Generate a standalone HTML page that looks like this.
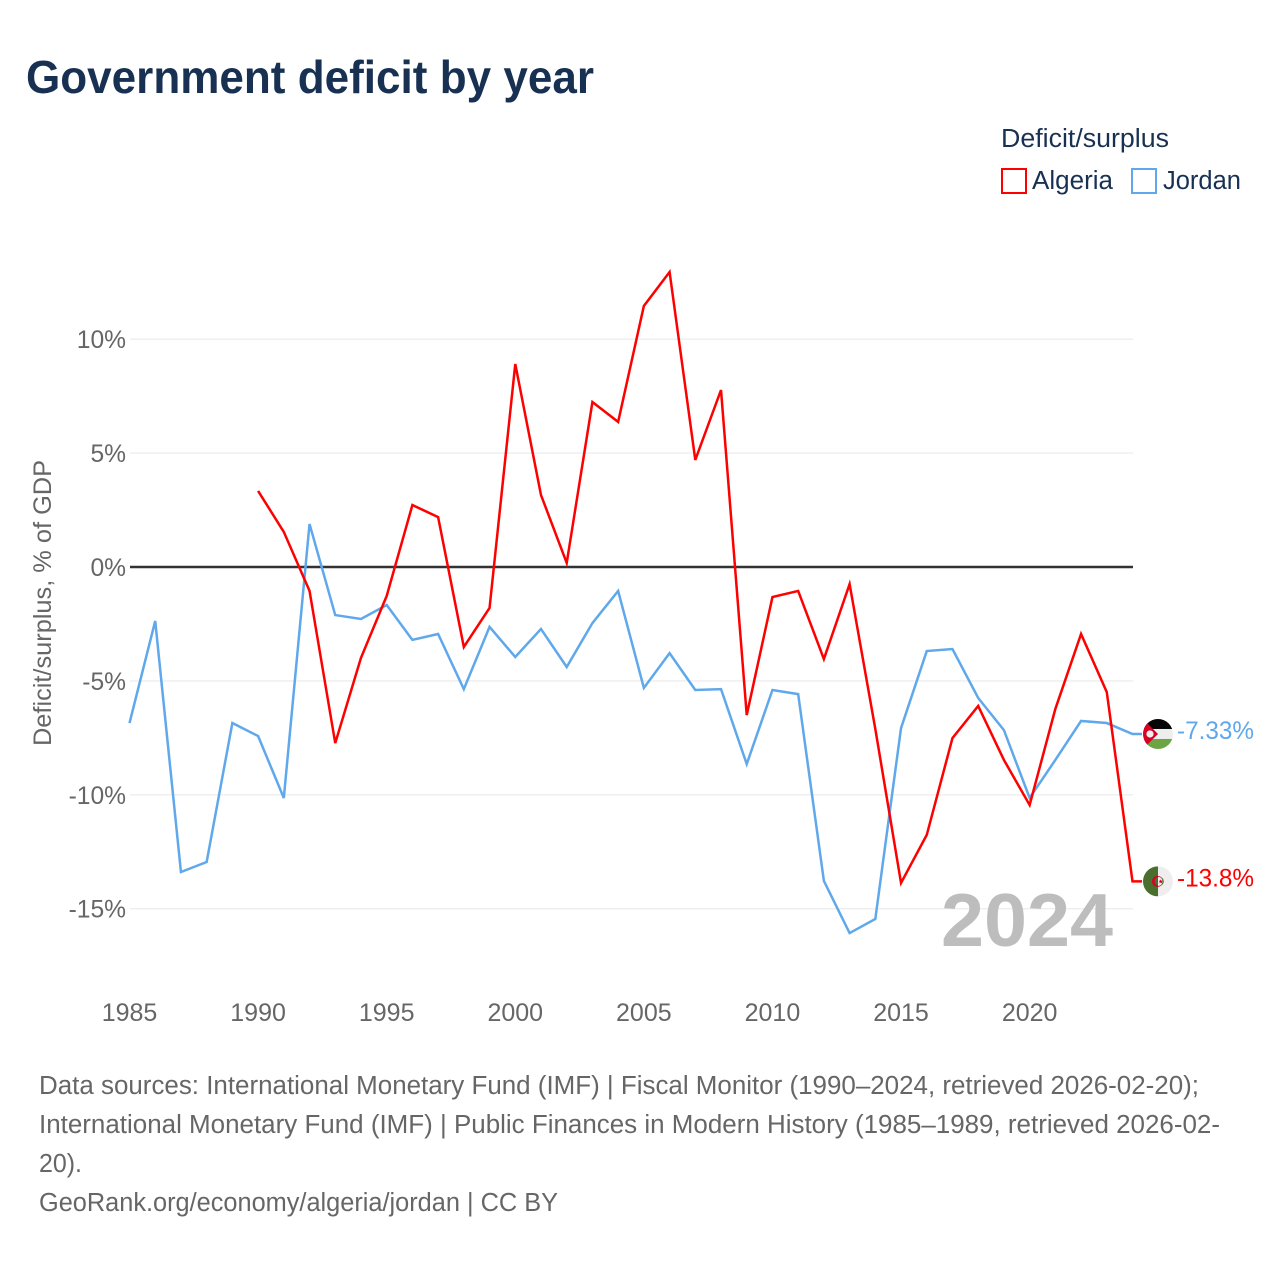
<!DOCTYPE html>
<html lang="en">
<head>
<meta charset="utf-8">
<title>Government deficit by year</title>
<style>
html,body{margin:0;padding:0;background:#fff;}
svg{display:block;}
text{font-family:"Liberation Sans",sans-serif;}
</style>
</head>
<body>
<svg id="chart" xmlns="http://www.w3.org/2000/svg" width="1280" height="1280" viewBox="0 0 1280 1280">
  <rect x="0" y="0" width="1280" height="1280" fill="#fff"/>
  <text x="26" y="93" font-size="46" font-weight="700" fill="#183153" textLength="568" lengthAdjust="spacingAndGlyphs">Government deficit by year</text>

  <g>
    <text x="1001" y="147" font-size="25.5" fill="#183153" textLength="168" lengthAdjust="spacingAndGlyphs">Deficit/surplus</text>
    <rect x="1002" y="169" width="24" height="24" fill="none" stroke="#ff0000" stroke-width="2"/>
    <text x="1032" y="189" font-size="25.5" fill="#183153" textLength="81" lengthAdjust="spacingAndGlyphs">Algeria</text>
    <rect x="1132" y="169" width="24" height="24" fill="none" stroke="#5fa8ec" stroke-width="2"/>
    <text x="1163" y="189" font-size="25.5" fill="#183153" textLength="78" lengthAdjust="spacingAndGlyphs">Jordan</text>
  </g>

  <text transform="translate(51,603) rotate(-90)" text-anchor="middle" font-size="25" fill="#666" textLength="286" lengthAdjust="spacingAndGlyphs">Deficit/surplus, % of GDP</text>

  <g id="grid"></g>
  <g id="yticks"></g>
  <g id="xticks"></g>
  <text x="941" y="946" font-size="75" font-weight="700" fill="#bdbdbd" textLength="172" lengthAdjust="spacingAndGlyphs">2024</text>
  <g id="lines"></g>

  <defs>
    <clipPath id="flag-clip"><circle cx="0" cy="0" r="15"/></clipPath>
  </defs>

  <g id="flag-jordan">
    <g clip-path="url(#flag-clip)">
      <rect x="-15" y="-15" width="30" height="30" fill="#eeeeee"/>
      <rect x="-15" y="-15" width="30" height="10" fill="#050505"/>
      <rect x="-15" y="5" width="30" height="10" fill="#6da544"/>
      <polygon points="-15,-15 0,0 -15,15" fill="#d80027"/>
      <circle cx="-8" cy="0" r="3.6" fill="#eeeeee"/>
    </g>
  </g>
  <g id="flag-algeria">
    <g clip-path="url(#flag-clip)">
      <rect x="-15" y="-15" width="30" height="30" fill="#eeeeee"/>
      <rect x="-15" y="-15" width="15" height="30" fill="#496e2d"/>
      <circle cx="-0.5" cy="0" r="5.5" fill="#d80027"/>
      <circle cx="1.2" cy="0" r="4.6" fill="#496e2d"/>
      <path d="M0 -4.6A4.6 4.6 0 0 1 0 4.6Z" fill="#eeeeee"/>
      <polygon points="2.5,-2 3.4,-0.6 5,-0.6 3.8,0.5 4.3,2 2.5,1.1 1.4,2 1.7,0.5 0.6,-0.6 2,-0.6" fill="#d80027"/>
    </g>
  </g>
  <text id="value-jordan" x="1177" font-size="25" fill="#5fa8ec" textLength="77" lengthAdjust="spacingAndGlyphs"></text>
  <text id="value-algeria" x="1177" font-size="25" fill="#ff0000" textLength="77" lengthAdjust="spacingAndGlyphs"></text>

  <g>
    <text x="39" y="1094" font-size="25.5" fill="#666" textLength="1160" lengthAdjust="spacingAndGlyphs">Data sources: International Monetary Fund (IMF) | Fiscal Monitor (1990–2024, retrieved 2026-02-20);</text>
    <text x="39" y="1133" font-size="25.5" fill="#666" textLength="1181" lengthAdjust="spacingAndGlyphs">International Monetary Fund (IMF) | Public Finances in Modern History (1985–1989, retrieved 2026-02-</text>
    <text x="39" y="1172" font-size="25.5" fill="#666" textLength="43" lengthAdjust="spacingAndGlyphs">20).</text>
    <text x="39" y="1211" font-size="25.5" fill="#666" textLength="519" lengthAdjust="spacingAndGlyphs">GeoRank.org/economy/algeria/jordan | CC BY</text>
  </g>
</svg>

<script>
const years = [1985,1986,1987,1988,1989,1990,1991,1992,1993,1994,1995,1996,1997,1998,1999,2000,2001,2002,2003,2004,2005,2006,2007,2008,2009,2010,2011,2012,2013,2014,2015,2016,2017,2018,2019,2020,2021,2022,2023,2024];
const jordanValues = [-6.85,-2.37,-13.39,-12.95,-6.85,-7.42,-10.14,1.89,-2.11,-2.28,-1.67,-3.2,-2.94,-5.36,-2.63,-3.95,-2.72,-4.39,-2.46,-1.05,-5.31,-3.78,-5.4,-5.36,-8.65,-5.4,-5.58,-13.78,-16.07,-15.45,-7.07,-3.69,-3.6,-5.75,-7.16,-10.14,-8.47,-6.76,-6.85,-7.33];
const algeriaValues = [null,null,null,null,null,3.34,1.54,-1.05,-7.73,-3.99,-1.27,2.72,2.19,-3.51,-1.8,8.91,3.16,0.18,7.24,6.37,11.46,12.95,4.7,7.77,-6.5,-1.32,-1.05,-4.04,-0.75,-7.11,-13.87,-11.76,-7.51,-6.1,-8.47,-10.45,-6.23,-2.94,-5.49,-13.8];
const yTicks = [10,5,0,-5,-10,-15];
const xTicks = [1985,1990,1995,2000,2005,2010,2015,2020];
const jordanEndLabel = "-7.33%";
const algeriaEndLabel = "-13.8%";

const NS = "http://www.w3.org/2000/svg";
const plotLeft = 129.5, plotRight = 1132.5, flagX = 1158, leaderEnd = 1142;
function xScale(year) {
  return plotLeft + (year - years[0]) * (plotRight - plotLeft) / (years[years.length - 1] - years[0]);
}
function yScale(value) {
  return 567 - value * 22.78;
}
function linePath(values) {
  let d = "";
  let pen = "M";
  values.forEach(function (v, i) {
    if (v === null) return;
    d += pen + xScale(years[i]).toFixed(2) + " " + yScale(v).toFixed(2);
    pen = "L";
  });
  return d + "L" + leaderEnd + " " + yScale(values[values.length - 1]).toFixed(2);
}

const grid = document.getElementById("grid");
const yticksGroup = document.getElementById("yticks");
yTicks.forEach(function (t) {
  const line = document.createElementNS(NS, "line");
  
  
  line.setAttribute("x1", 130);
  line.setAttribute("x2", 1133);
  line.setAttribute("y1", yScale(t));
  line.setAttribute("y2", yScale(t));
  line.setAttribute("stroke", t === 0 ? "#333333" : "#eeeeee");
  line.setAttribute("stroke-width", t === 0 ? 2.4 : 1.4);
  grid.appendChild(line);

  const label = document.createElementNS(NS, "text");
  
  
  label.setAttribute("x", 126);
  label.setAttribute("y", yScale(t) + 9);
  label.setAttribute("text-anchor", "end");
  label.setAttribute("font-size", "24.6");
  label.setAttribute("fill", "#666");
  label.textContent = t + "%";
  yticksGroup.appendChild(label);
});

const xticksGroup = document.getElementById("xticks");
xTicks.forEach(function (t) {
  const label = document.createElementNS(NS, "text");
  
  
  label.setAttribute("x", xScale(t));
  label.setAttribute("y", 1021);
  label.setAttribute("text-anchor", "middle");
  label.setAttribute("font-size", "25");
  label.setAttribute("fill", "#666");
  label.textContent = t;
  xticksGroup.appendChild(label);
});

const linesGroup = document.getElementById("lines");

const jordanLine = document.createElementNS(NS, "path");


jordanLine.setAttribute("d", linePath(jordanValues));
jordanLine.setAttribute("fill", "none");
jordanLine.setAttribute("stroke", "#5fa8ec");
jordanLine.setAttribute("stroke-width", "2.5");
linesGroup.appendChild(jordanLine);

const algeriaLine = document.createElementNS(NS, "path");


algeriaLine.setAttribute("d", linePath(algeriaValues));
algeriaLine.setAttribute("fill", "none");
algeriaLine.setAttribute("stroke", "#ff0000");
algeriaLine.setAttribute("stroke-width", "2.5");
linesGroup.appendChild(algeriaLine);

const jordanEndY = yScale(jordanValues[jordanValues.length - 1]);
const algeriaEndY = yScale(algeriaValues[algeriaValues.length - 1]);
document.getElementById("flag-jordan").setAttribute("transform", "translate(" + flagX + "," + jordanEndY + ")");
document.getElementById("flag-algeria").setAttribute("transform", "translate(" + flagX + "," + algeriaEndY + ")");
const jordanValueText = document.getElementById("value-jordan");
jordanValueText.setAttribute("y", jordanEndY + 5);
jordanValueText.textContent = jordanEndLabel;
const algeriaValueText = document.getElementById("value-algeria");
algeriaValueText.setAttribute("y", algeriaEndY + 5);
algeriaValueText.textContent = algeriaEndLabel;
</script>
</body>
</html>
